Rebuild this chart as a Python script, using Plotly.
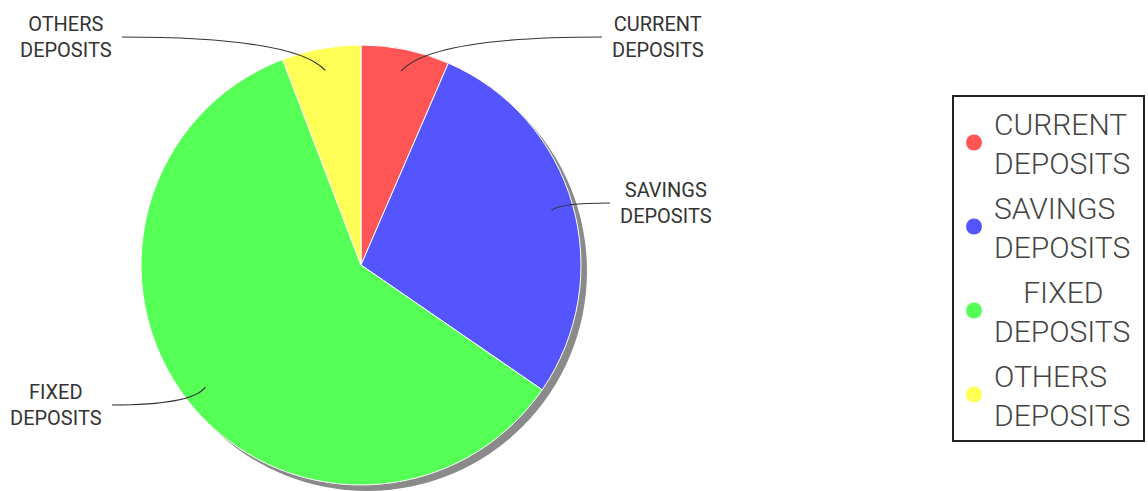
import math
import plotly.graph_objects as go

# ---- data ----
categories = ["CURRENT DEPOSITS", "SAVINGS DEPOSITS", "FIXED DEPOSITS", "OTHERS DEPOSITS"]
values = [6.5, 28.1, 59.6, 5.8]
slice_labels = ["CURRENT<br>DEPOSITS", "SAVINGS<br>DEPOSITS", "FIXED<br>DEPOSITS", "OTHERS<br>DEPOSITS"]
legend_labels = ["CURRENT<br>DEPOSITS\u00a0", "SAVINGS<br>DEPOSITS",
                 "\u00a0\u00a0\u00a0\u00a0FIXED<br>DEPOSITS", "OTHERS<br>DEPOSITS"]
colors = ["#ff5555", "#5555ff", "#55ff55", "#ffff55"]

# ---- layout constants (pixels) ----
W, H = 1148, 491
CX, CY, R = 361, 265, 220
SHADOW = 6
ANCHOR_FRAC = 0.9
label_ends = [(602, 37), (610, 203), (112, 405), (122, 37)]
label_side = ["right", "right", "left", "left"]


def px(x):
    return x / W


def py(y):
    return 1 - y / H


fig = go.Figure()

# shadow
fig.add_trace(go.Pie(
    values=[1], labels=["shadow"], marker=dict(colors=["#8a8a8a"]),
    domain=dict(x=[px(CX - R + SHADOW), px(CX + R + SHADOW)],
                y=[py(CY + R + SHADOW), py(CY - R + SHADOW)]),
    textinfo="none", hoverinfo="skip", showlegend=False, sort=False,
))

# main pie
fig.add_trace(go.Pie(
    values=values, labels=categories, marker=dict(colors=colors, line=dict(color="white", width=1)),
    domain=dict(x=[px(CX - R), px(CX + R)], y=[py(CY + R), py(CY - R)]),
    textinfo="none", direction="clockwise", rotation=0, sort=False, showlegend=False,
))

# legend entries with circle symbols
for i, (name, col) in enumerate(zip(legend_labels, colors)):
    fig.add_trace(go.Scatter(x=[None], y=[None], mode="markers", name=name,
                             legendgroup=f"g{i}",
                             marker=dict(color=col, size=16, symbol="circle")))

# outside labels with curved leader lines
total = sum(values)
cum = 0.0
shapes, annotations = [], []
for v, lab, end, side in zip(values, slice_labels, label_ends, label_side):
    mid = (cum + v / 2) / total * 2 * math.pi
    cum += v
    ax = CX + ANCHOR_FRAC * R * math.sin(mid)
    ay = CY - ANCHOR_FRAC * R * math.cos(mid)
    ex, ey = end
    cx = ax + 0.15 * (ex - ax)
    cy = ey
    shapes.append(dict(type="path", xref="paper", yref="paper",
                       path=f"M {px(ax)},{py(ay)} Q {px(cx)},{py(cy)} {px(ex)},{py(ey)}",
                       line=dict(color="#333333", width=1.2)))
    if side == "right":
        tx, xa = ex + 8, "left"
    else:
        tx, xa = ex - 8, "right"
    annotations.append(dict(text=lab, x=px(tx), y=py(ey), xref="paper", yref="paper",
                            xanchor=xa, yanchor="middle", showarrow=False, align="center",
                            font=dict(family="Roboto", size=20, color="#333333")))

fig.update_layout(
    width=W, height=H,
    margin=dict(l=0, r=0, t=0, b=0),
    paper_bgcolor="white", plot_bgcolor="white",
    xaxis=dict(visible=False), yaxis=dict(visible=False),
    shapes=shapes, annotations=annotations,
    showlegend=True,
    legend=dict(x=px(952), y=py(95), xanchor="left", yanchor="top",
                bordercolor="#222222", borderwidth=2, bgcolor="white",
                tracegroupgap=3,
                font=dict(family="Roboto", size=30, color="#444444", weight=300)),
)

fig.write_html("out.html", config={"displayModeBar": False},
               post_script="document.body.style.margin='0';")
